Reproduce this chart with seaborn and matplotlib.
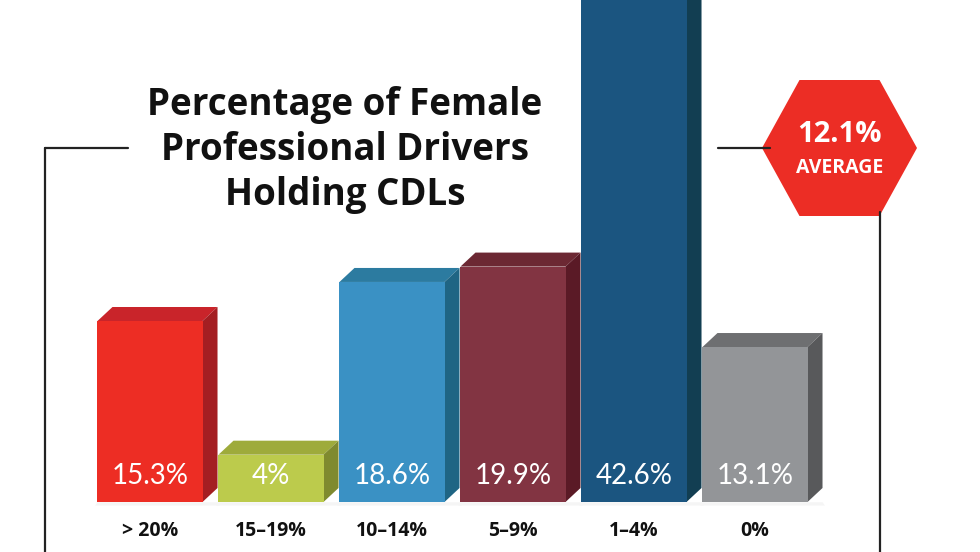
import numpy as np
import pandas as pd
import matplotlib
matplotlib.use("Agg")
import matplotlib.pyplot as plt
from matplotlib.patches import Polygon
import seaborn as sns

# data
categories = ["> 20%", "15\u201319%", "10\u201314%", "5\u20139%", "1\u20134%", "0%"]
values = [15.3, 4.0, 18.6, 19.9, 42.6, 13.1]
value_labels = ["15.3%", "4%", "18.6%", "19.9%", "42.6%", "13.1%"]
front_colors = ["#ED2D24", "#BCCB4C", "#3A91C4", "#823442", "#1B5580", "#939598"]
top_colors = ["#C9242A", "#9EAB3B", "#2C7BA0", "#6C2833", "#154763", "#6E6F71"]
side_colors = ["#A41E22", "#7F8A2F", "#1F6584", "#5A1A26", "#123E52", "#58595B"]
average_label = "12.1%"

sns.set_theme(style="white")
plt.rcParams["font.family"] = ["Open Sans", "DejaVu Sans"]

W, H = 980, 552
fig = plt.figure(figsize=(W / 100, H / 100), dpi=100)
ax = fig.add_axes([0, 0, 1, 1])

df = pd.DataFrame({"cat": categories, "val": values})
sns.barplot(data=df, x="cat", y="val", hue="cat", palette=front_colors,
            width=0.868, legend=False, ax=ax, saturation=1, edgecolor="none", zorder=3)

# pixel mapping: 121 px per category, 11.83 px per percent, baseline 50 px from bottom
px_x, px_y = 121.0, 11.83
ax.set_xlim(-150 / px_x, (W - 150) / px_x)
ax.set_ylim(-50 / px_y, (H - 50) / px_y)
ax.axis("off")

dx, dy = 15 / px_x, 14 / px_y
for i, p in enumerate(ax.patches):
    x0, w, h = p.get_x(), p.get_width(), p.get_height()
    x1 = x0 + w
    top = Polygon([(x0, h), (x0 + dx, h + dy), (x1 + dx, h + dy), (x1, h)],
                  closed=True, fc=top_colors[i], ec="none", zorder=2)
    side = Polygon([(x1, 0), (x1 + dx, dy), (x1 + dx, h + dy), (x1, h)],
                   closed=True, fc=side_colors[i], ec="none", zorder=2)
    shadow = Polygon([(x0, -0.02), (x1 + dx, -0.02), (x1 + dx + 0.02, -0.3), (x0 - 0.02, -0.3)],
                     closed=True, fc="#F5F5F5", ec="none", zorder=1)
    ax.add_patch(top)
    ax.add_patch(side)
    ax.add_patch(shadow)
    ax.text(x0 + w / 2, 26 / px_y, value_labels[i], color="white", fontsize=20,
            ha="center", va="center", zorder=4, family=["Lato", "DejaVu Sans"])
    ax.text(x0 + w / 2, -29 / px_y, categories[i], color="#111111", fontsize=14,
            fontweight="bold", ha="center", va="center", zorder=4)

# bracket lines and title, in figure pixels
def fx(x):
    return x / W

def fy(y):
    return 1 - y / H

line_kw = dict(color="#222222", lw=1.6, transform=fig.transFigure)
fig.add_artist(plt.Line2D([fx(45), fx(45)], [fy(148), 0], **line_kw))
fig.add_artist(plt.Line2D([fx(45), fx(128)], [fy(148), fy(148)], **line_kw))
fig.add_artist(plt.Line2D([fx(718), fx(770)], [fy(148), fy(148)], **line_kw))
fig.add_artist(plt.Line2D([fx(880), fx(880)], [fy(212), 0], **line_kw))

fig.text(fx(345), fy(150), "Percentage of Female\nProfessional Drivers\nHolding CDLs",
         ha="center", va="center", fontsize=26.5, fontweight="bold", color="#111111",
         linespacing=1.24)

# average hexagon
hex_ax = fig.add_axes([fx(762), fy(216), fx(917) - fx(762), fy(80) - fy(216)])
hex_ax.set_xlim(-77.5, 77.5)
hex_ax.set_ylim(-68, 68)
hex_ax.axis("off")
hex_ax.add_patch(Polygon([(-77.5, 0), (-40, 68), (40, 68), (77.5, 0), (40, -68), (-40, -68)],
                         closed=True, fc="#EC2D25", ec="none"))
hex_ax.text(0, 14, average_label, color="white", fontsize=21, fontweight="bold",
            ha="center", va="center")
hex_ax.text(0, -20, "AVERAGE", color="white", fontsize=14, fontweight="bold",
            ha="center", va="center")

fig.savefig("out.png", dpi=100)
